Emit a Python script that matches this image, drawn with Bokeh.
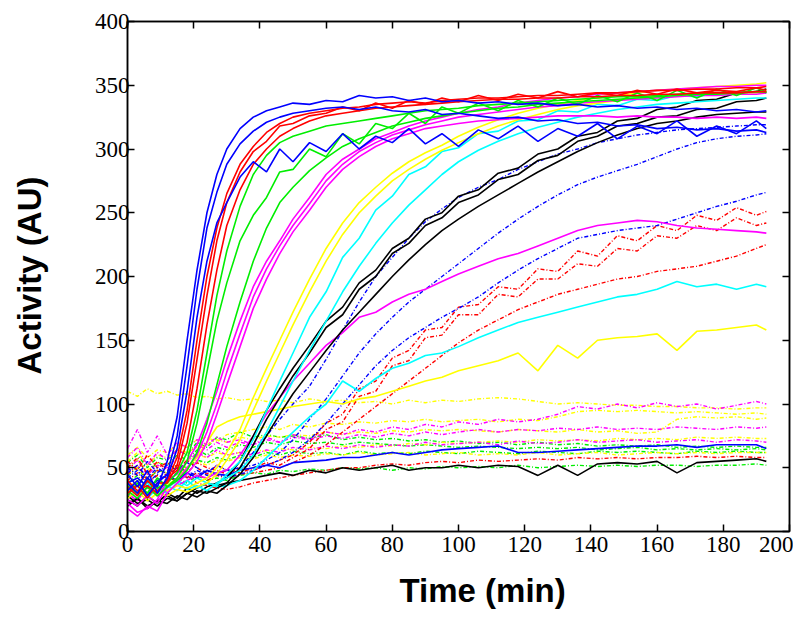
from bokeh.plotting import figure
from bokeh.models import Range1d, LinearAxis, FixedTicker, Title, CustomLabelingPolicy
from bokeh.embed import file_html
from bokeh.resources import INLINE

# ---------------- data ----------------
time_min = [0, 3, 6, 9, 12, 15, 18, 21, 24, 27, 30, 34, 38, 42, 46, 50, 55, 60, 65, 70, 75,
            80, 85, 90, 95, 100, 106, 112, 118, 124, 130, 136, 142, 148, 154, 160, 166,
            172, 178, 184, 190, 193]

x_ticks = [0, 20, 40, 60, 80, 100, 120, 140, 160, 180, 200]
y_ticks = [0, 50, 100, 150, 200, 250, 300, 350, 400]

# solid traces
blue_1 = [38,30,42,35,55,90,150,205,250,280,300,316,325,330,333,336,335,338,337,342,340,341,338,340,337,338,336,337,335,336,334,335,333,334,332,333,331,332,330,331,329,330]
blue_2 = [32,40,28,38,45,75,130,190,238,266,288,304,314,321,325,328,330,332,333,331,333,330,329,331,327,328,326,324,325,322,323,320,321,318,319,316,317,315,316,314,315,313]
blue_3 = [45,35,48,30,42,65,110,168,212,242,258,278,290,282,300,290,305,298,312,300,310,305,316,304,312,302,315,308,318,306,316,310,320,308,318,312,322,310,318,312,322,316]
red_1 = [35,28,40,32,40,58,95,150,200,238,265,288,302,313,320,325,328,330,332,333,335,336,337,336,338,339,340,340,341,342,342,343,344,344,345,346,346,347,347,348,348,349]
red_2 = [30,36,26,38,38,52,85,135,185,228,258,282,298,306,318,320,326,328,333,330,336,332,338,335,340,337,342,338,343,340,345,341,344,342,346,343,347,344,346,345,348,346]
red_3 = [40,32,36,30,42,48,70,112,162,205,240,268,288,300,310,316,322,326,328,330,332,333,334,335,336,337,338,339,339,340,340,341,341,342,342,343,343,344,344,344,345,345]
green_1 = [36,30,40,34,38,46,62,95,140,185,220,255,280,295,305,310,314,318,320,322,324,326,328,330,331,332,334,335,336,337,338,339,340,341,341,342,343,343,344,344,345,345]
green_2 = [28,38,30,42,35,42,55,85,125,165,195,228,248,262,282,284,300,294,312,304,320,316,328,320,333,328,336,330,338,333,340,335,342,337,344,338,346,340,347,342,348,344]
green_3 = [32,26,35,28,35,40,48,62,85,115,145,180,212,238,258,270,283,293,302,308,313,318,321,324,326,328,330,332,333,335,336,337,338,339,340,341,342,343,343,344,345,345]
magenta_1 = [22,15,18,25,40,45,55,68,88,110,135,165,192,212,228,245,262,280,292,300,308,313,318,322,325,328,331,333,336,338,340,341,343,344,345,346,347,348,349,349,350,350]
magenta_2 = [18,12,20,16,30,38,45,55,70,92,115,145,175,198,218,235,252,270,284,294,302,308,312,316,318,320,322,323,324,325,326,326,326,325,326,325,325,324,325,324,325,324]
magenta_3 = [25,20,28,22,35,40,50,60,78,100,125,155,184,206,224,240,257,275,288,298,305,311,315,319,322,325,327,329,331,333,334,336,337,338,339,340,341,342,342,343,343,344]
yellow_1 = [30,38,28,35,32,36,34,38,42,50,62,80,105,128,150,172,198,222,242,258,270,281,290,297,303,310,317,323,328,332,335,338,340,342,344,346,347,348,349,350,351,352]
yellow_2 = [26,32,24,30,28,33,31,35,38,45,56,72,95,118,140,162,188,212,233,250,263,275,284,292,299,305,312,318,323,327,331,334,336,338,340,341,342,343,343,344,344,345]
cyan_1 = [35,28,38,30,36,32,40,34,38,36,45,55,72,95,118,140,168,188,215,230,252,263,280,286,298,301,312,314,322,323,330,329,335,334,339,338,342,341,344,343,345,344]
cyan_2 = [30,36,26,34,30,38,33,36,32,38,42,48,60,78,98,118,142,165,188,208,226,242,256,268,280,290,299,306,312,317,321,325,328,331,333,335,336,337,338,339,340,340]
black_1 = [25,20,28,22,30,26,34,30,35,38,42,55,75,95,112,128,146,165,176,195,205,222,230,245,250,263,268,281,285,296,300,310,313,322,324,331,333,338,339,344,345,347]
black_2 = [20,26,18,24,22,28,25,32,30,34,38,50,68,88,105,122,140,160,170,190,200,218,226,240,246,258,264,276,280,291,295,306,310,318,320,325,326,331,332,337,338,340]
black_3 = [28,22,25,20,26,24,30,27,32,30,36,45,58,75,92,108,125,142,158,172,186,200,213,225,236,245,255,264,273,282,290,298,305,311,316,320,322,325,327,328,329,329]
magenta_slow = [30,24,35,28,32,36,40,44,42,46,48,60,75,92,105,118,132,146,156,168,172,180,186,190,196,202,208,214,218,224,230,236,240,242,244,243,240,238,237,236,235,234]
cyan_slow = [32,38,30,36,34,40,36,42,38,35,36,40,48,58,68,78,90,100,118,110,120,128,132,138,140,145,152,158,164,168,172,176,180,184,186,190,196,192,194,190,194,192]
yellow_slow = [34,40,30,38,36,42,50,58,70,82,86,90,92,94,96,98,100,102,100,104,106,110,114,118,121,126,130,134,140,126,146,136,150,152,153,155,142,157,158,160,162,158]
black_flat = [22,26,20,24,28,24,30,34,38,36,38,40,42,44,46,44,48,46,50,48,50,52,48,50,50,52,50,52,51,44,52,44,53,54,53,55,46,54,55,56,57,55]
blue_flat = [38,42,35,40,44,40,46,42,48,45,44,48,50,52,50,54,55,56,58,58,60,62,60,62,64,65,66,67,62,62,63,64,65,66,67,67,68,66,68,68,68,65]

# dash-dot traces
blue_dd_fast = [42,48,38,45,40,46,42,48,44,46,48,50,62,75,88,100,114,135,158,180,200,215,230,243,253,262,270,276,284,290,296,300,305,308,311,313,315,316,317,318,319,319]
blue_dd_mid = [50,44,55,46,52,48,54,50,46,52,48,50,52,56,62,72,88,104,122,140,155,168,180,190,200,210,222,234,245,255,264,272,278,283,288,294,300,305,308,310,311,312]
blue_dd_slow = [46,52,42,50,45,50,47,44,48,45,42,45,48,52,56,62,72,85,100,115,130,142,152,160,168,175,184,195,205,214,222,230,233,236,238,240,245,250,255,259,264,266]
red_dd_1 = [50,58,45,55,48,52,46,54,50,48,45,50,48,52,56,60,70,85,92,112,118,136,142,158,160,176,178,192,190,206,204,220,216,232,228,240,236,248,244,254,248,251]
red_dd_2 = [55,48,60,50,54,48,56,50,45,52,48,46,50,54,52,58,65,80,86,106,110,130,134,152,154,170,170,186,184,198,198,210,208,222,220,232,230,240,236,246,240,242]
red_dd_3 = [45,52,40,48,44,50,42,46,40,44,42,45,46,48,50,54,60,68,78,88,98,108,118,128,138,148,158,166,174,180,186,190,194,198,200,204,206,208,212,216,222,225]
red_dd_flat = [40,46,38,44,42,40,44,38,36,34,33,35,38,40,42,44,46,48,50,50,52,53,52,54,55,54,56,55,56,57,56,58,57,58,57,58,58,59,58,59,58,58]
yellow_dd_1 = [110,106,112,108,110,107,108,105,106,104,105,103,104,102,103,101,104,102,103,101,102,100,103,101,103,102,104,105,104,102,100,101,100,99,99,98,98,97,97,96,97,97]
yellow_dd_2 = [60,66,58,64,62,68,66,72,74,70,76,78,80,82,80,84,82,85,84,86,85,87,86,88,86,87,88,86,88,87,90,94,95,94,95,94,93,94,93,92,93,92]
yellow_dd_3 = [55,62,52,60,58,64,62,66,68,72,70,74,72,75,74,76,75,78,76,78,77,79,78,80,79,80,79,78,80,79,78,80,78,79,77,78,88,90,89,90,88,89]
yellow_dd_4 = [50,56,48,54,52,58,55,60,58,62,60,62,64,63,65,64,66,65,67,66,68,67,69,68,70,69,70,71,70,72,71,72,71,73,72,73,72,74,73,74,73,73]
yellow_dd_5 = [45,50,42,48,46,52,50,55,52,56,55,58,57,60,58,60,59,61,60,62,60,61,62,60,61,62,60,61,60,62,60,61,62,60,61,62,61,62,61,62,62,62]
magenta_dd_1 = [65,80,62,75,60,70,66,72,68,74,70,72,68,74,70,76,72,78,76,80,78,82,80,84,82,86,84,88,86,88,92,98,96,100,97,101,98,100,96,99,102,100]
magenta_dd_2 = [58,66,52,62,56,64,60,68,64,70,66,70,68,72,70,74,72,75,73,76,74,77,75,78,76,78,80,78,80,79,81,80,82,80,81,80,82,81,80,82,81,82]
magenta_dd_3 = [48,56,44,52,50,58,54,62,58,64,60,62,60,64,62,66,64,67,65,68,66,68,67,70,68,69,70,68,71,69,70,72,70,71,72,70,71,72,70,72,71,70]
green_dd_1 = [38,44,34,40,36,42,38,44,40,42,40,44,46,45,48,47,49,48,50,49,50,48,50,49,51,50,51,50,52,50,51,52,51,52,51,52,52,51,52,52,53,52]
green_dd_2 = [44,50,40,48,46,52,50,56,54,58,56,60,58,62,60,63,61,62,60,63,61,62,61,63,62,61,63,62,61,63,62,61,63,62,63,62,61,63,62,63,62,62]
green_dd_3 = [50,56,46,54,52,60,56,64,60,66,64,68,66,70,68,71,69,70,68,70,69,68,67,68,67,66,67,66,65,66,65,66,64,65,66,64,65,64,65,64,65,64]
green_dd_4 = [54,60,50,58,56,64,60,70,66,74,72,78,74,76,74,75,73,76,72,74,72,73,71,72,70,71,69,70,68,70,68,69,67,68,67,68,66,67,66,67,66,66]

# ---------------- styles ----------------
BLUE, RED, GREEN, MAGENTA, YELLOW, CYAN, BLACK = "#0000ff", "#ff0000", "#00ee00", "#ff00ff", "#ffff00", "#00ffff", "#000000"
DD = "4 2 1 2"

dashdot_traces = [
    (green_dd_1, GREEN), (green_dd_2, GREEN), (green_dd_3, GREEN), (green_dd_4, GREEN),
    (red_dd_flat, RED), (yellow_dd_5, YELLOW), (yellow_dd_4, YELLOW), (yellow_dd_3, YELLOW),
    (yellow_dd_2, YELLOW), (yellow_dd_1, YELLOW), (magenta_dd_3, MAGENTA), (magenta_dd_2, MAGENTA),
    (magenta_dd_1, MAGENTA), (red_dd_3, RED), (red_dd_2, RED), (red_dd_1, RED),
    (blue_dd_slow, BLUE), (blue_dd_mid, BLUE), (blue_dd_fast, BLUE),
]
solid_traces = [
    (blue_flat, BLUE), (black_flat, BLACK), (yellow_slow, YELLOW), (cyan_slow, CYAN), (magenta_slow, MAGENTA),
    (black_3, BLACK), (black_2, BLACK), (black_1, BLACK),
    (cyan_2, CYAN), (cyan_1, CYAN), (yellow_2, YELLOW), (yellow_1, YELLOW),
    (magenta_2, MAGENTA), (magenta_3, MAGENTA), (magenta_1, MAGENTA),
    (green_3, GREEN), (green_2, GREEN), (green_1, GREEN),
    (red_3, RED), (red_2, RED), (red_1, RED),
    (blue_3, BLUE), (blue_2, BLUE), (blue_1, BLUE),
]

TICK_FONT = "Liberation Sans Narrow"
TITLE_FONT = "Liberation Sans"

p = figure(width=793, height=616, output_backend="svg", toolbar_location=None,
           x_range=Range1d(0, 200), y_range=Range1d(0, 400),
           min_border_left=127, min_border_right=4, min_border_top=21, min_border_bottom=85)
p.grid.visible = False
p.outline_line_color = "black"
p.outline_line_width = 1.5
p.background_fill_color = "white"
p.border_fill_color = "white"

for ys, col in dashdot_traces:
    p.line(time_min, ys, line_color=col, line_width=1.4, line_dash=DD)
for ys, col in solid_traces:
    p.line(time_min, ys, line_color=col, line_width=1.6)

NO_LABELS = CustomLabelingPolicy(code="return new Set()")


def style_axis(ax, ticks, show_labels, standoff=0):
    ax.ticker = FixedTicker(ticks=ticks, minor_ticks=[])
    ax.major_tick_in = 7
    ax.major_tick_out = 0
    ax.major_tick_line_color = "black"
    ax.major_tick_line_width = 1.5
    ax.minor_tick_line_color = None
    ax.axis_line_color = "black"
    ax.axis_line_width = 1.5
    ax.major_label_standoff = standoff
    if show_labels:
        ax.major_label_text_font = TICK_FONT
        ax.major_label_text_font_size = "23px"
        ax.major_label_text_color = "black"
    else:
        ax.major_label_text_font_size = "0px"
        ax.major_label_policy = NO_LABELS


def spacer_axis(ticks, size):
    # an invisible axis used only to push the axis title outwards
    ax = LinearAxis(ticker=FixedTicker(ticks=ticks, minor_ticks=[]))
    ax.major_tick_out = size
    ax.major_tick_in = 0
    ax.major_tick_line_color = None
    ax.minor_tick_line_color = None
    ax.axis_line_color = None
    ax.major_label_standoff = 0
    ax.major_label_text_font_size = "0px"
    ax.major_label_policy = NO_LABELS
    return ax


style_axis(p.xaxis[0], x_ticks, True, standoff=5)
style_axis(p.yaxis[0], y_ticks, True, standoff=-2)
top_axis = LinearAxis()
right_axis = LinearAxis()
style_axis(top_axis, x_ticks, False)
style_axis(right_axis, y_ticks, False)
p.add_layout(top_axis, "above")
p.add_layout(right_axis, "right")

p.add_layout(spacer_axis(x_ticks, 15), "below")
p.add_layout(spacer_axis(y_ticks, 43), "left")

x_title = Title(text="Time (min)", align="left", offset=272, standoff=0,
                text_font=TITLE_FONT, text_font_style="bold", text_font_size="33px",
                text_color="black")
y_title = Title(text="Activity (AU)", align="left", offset=157, standoff=0,
                vertical_align="middle",
                text_font=TITLE_FONT, text_font_style="bold", text_font_size="33px",
                text_color="black")
p.add_layout(x_title, "below")
p.add_layout(y_title, "left")

open("out.html", "w").write(file_html(p, INLINE))
